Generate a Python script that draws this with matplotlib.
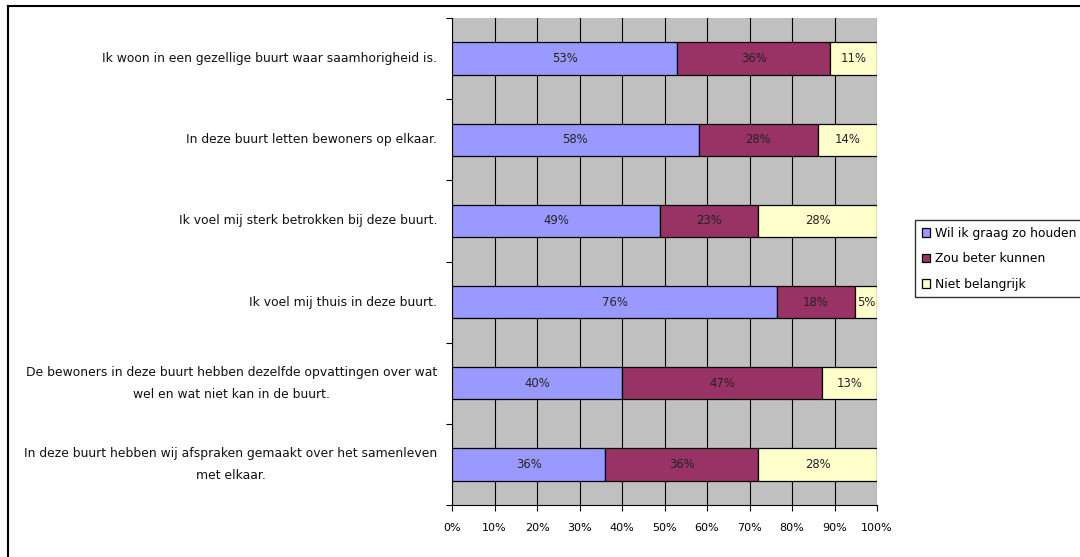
import numpy as np
import matplotlib.pyplot as plt
from matplotlib.lines import Line2D

stellingen = [
    "Ik woon in een gezellige buurt waar saamhorigheid is.",
    "In deze buurt letten bewoners op elkaar.",
    "Ik voel mij sterk betrokken bij deze buurt.",
    "Ik voel mij thuis in deze buurt.",
    "De bewoners in deze buurt hebben dezelfde opvattingen over wat\nwel en wat niet kan in de buurt.",
    "In deze buurt hebben wij afspraken gemaakt over het samenleven\nmet elkaar.",
]
# percentages (afgerond weergegeven)
houden = [53, 58, 49, 76.5, 40, 36]
beter = [36, 28, 23, 18.3, 47, 36]
niet = [11, 14, 28, 5.2, 13, 28]

series = ["Wil ik graag zo houden", "Zou beter kunnen", "Niet belangrijk"]
kleuren = ["#9999FF", "#993366", "#FFFFCC"]

fig = plt.figure(figsize=(10.8, 5.57), dpi=100)
ax = fig.add_axes([452 / 1080, 1 - 505 / 557, 425 / 1080, 487 / 557])
ax.set_facecolor("#C0C0C0")

y = np.arange(len(stellingen))
links = np.zeros(len(stellingen))
for naam, vals, kleur in zip(series, [houden, beter, niet], kleuren):
    vals = np.array(vals)
    ax.barh(y, vals, left=links, height=0.4, color=kleur,
            edgecolor="black", linewidth=0.9, label=naam, zorder=3)
    for yi, l, v in zip(y, links, vals):
        ax.text(l + v / 2, yi, f"{v:.0f}%", ha="center", va="center",
                fontsize=8.4, color="#222222", zorder=4)
    links = links + vals

ax.set_xlim(0, 100)
ax.set_ylim(len(stellingen) - 0.5, -0.5)
ax.set_xticks(np.arange(0, 101, 10))
ax.set_xticklabels([f"{v}%" for v in range(0, 101, 10)], fontsize=8)
ax.xaxis.grid(True, color="black", linewidth=0.8, zorder=1)
ax.set_axisbelow(True)
ax.set_yticks(np.arange(-0.5, len(stellingen), 1))
ax.set_yticklabels([])
ax.tick_params(axis="y", length=4, width=0.8, direction="out")
ax.tick_params(axis="x", length=4, width=0.8, direction="out", pad=9)
for s in ["top", "right"]:
    ax.spines[s].set_visible(False)
for s in ["left", "bottom"]:
    ax.spines[s].set_linewidth(0.8)

for yi, tekst in zip(y, stellingen):
    ax.text(-0.035, yi, tekst, transform=ax.get_yaxis_transform(),
            ha="right", va="center", multialignment="center",
            fontsize=8.9, linespacing=1.85, color="#111111")

fig.legend(loc="upper left", bbox_to_anchor=(915 / 1080, 1 - 220 / 557),
           fontsize=8.9, frameon=True, fancybox=False, edgecolor="black",
           handlelength=0.7, handleheight=0.7, handletextpad=0.4,
           labelspacing=1.0, borderpad=0.55, borderaxespad=0)

# rand van het kader (links en boven)
fig.add_artist(Line2D([7.5 / 1080, 7.5 / 1080], [0, 1 - 5.5 / 557],
                      transform=fig.transFigure, color="black", linewidth=1.5))
fig.add_artist(Line2D([7.5 / 1080, 1], [1 - 5.5 / 557, 1 - 5.5 / 557],
                      transform=fig.transFigure, color="black", linewidth=1.5))

fig.savefig("out.png", dpi=100)
